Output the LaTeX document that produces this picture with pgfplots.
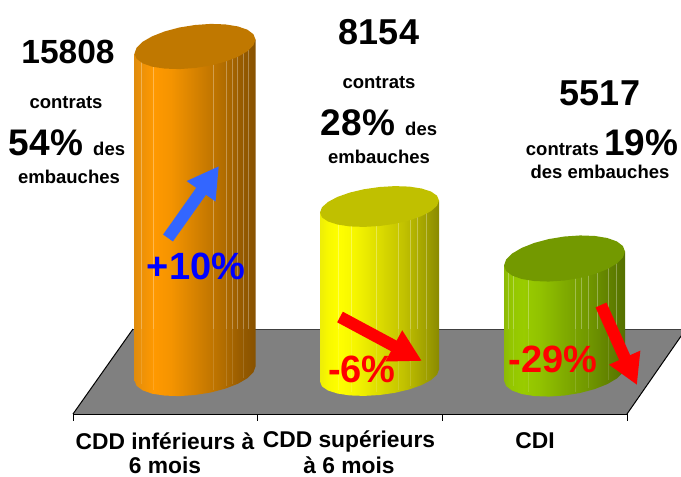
\documentclass[border=0pt]{standalone}
\usepackage{fontspec}
\setmainfont{Liberation Sans}
\usepackage{pgfplots}
\pgfplotsset{compat=1.18}
\usetikzlibrary{arrows.meta}
\definecolor{floorgray}{RGB}{128,128,128}
\definecolor{arrowblue}{RGB}{51,102,255}
\definecolor{labelblue}{RGB}{0,0,255}
\definecolor{orangetop}{RGB}{192,120,0}
\definecolor{yellowtop}{RGB}{192,192,0}
\definecolor{greentop}{RGB}{115,153,0}
% stops run from 25bp (left side of the bar) to 75bp (right side)
\pgfdeclarehorizontalshading{orangebody}{100bp}{
  rgb(0bp)=(0.88,0.55,0.05); rgb(25bp)=(0.88,0.55,0.05);
  rgb(28bp)=(0.93,0.57,0.03); rgb(33bp)=(1,0.6,0); rgb(40bp)=(0.96,0.58,0);
  rgb(50bp)=(0.84,0.51,0); rgb(60bp)=(0.72,0.44,0); rgb(70bp)=(0.58,0.35,0);
  rgb(75bp)=(0.53,0.32,0); rgb(100bp)=(0.53,0.32,0)}
\pgfdeclarehorizontalshading{yellowbody}{100bp}{
  rgb(0bp)=(0.93,0.93,0.03); rgb(25bp)=(0.93,0.93,0.03);
  rgb(28bp)=(0.97,0.97,0); rgb(33bp)=(1,1,0); rgb(40bp)=(0.96,0.96,0);
  rgb(50bp)=(0.86,0.86,0); rgb(60bp)=(0.76,0.76,0); rgb(70bp)=(0.62,0.62,0);
  rgb(75bp)=(0.54,0.54,0); rgb(100bp)=(0.54,0.54,0)}
\pgfdeclarehorizontalshading{greenbody}{100bp}{
  rgb(0bp)=(0.55,0.73,0.02); rgb(25bp)=(0.55,0.73,0.02);
  rgb(28bp)=(0.58,0.78,0); rgb(33bp)=(0.6,0.8,0); rgb(40bp)=(0.57,0.76,0);
  rgb(50bp)=(0.5,0.67,0); rgb(60bp)=(0.44,0.59,0); rgb(70bp)=(0.37,0.49,0);
  rgb(75bp)=(0.33,0.44,0); rgb(100bp)=(0.33,0.44,0)}
\tikzset{
  big/.style={font=\fontsize{36}{36}\selectfont\bfseries},
  small/.style={font=\fontsize{18.5}{18.5}\selectfont\bfseries},
  cat/.style={font=\fontsize{22.8}{22.8}\selectfont\bfseries, inner sep=0pt},
  pct/.style={font=\fontsize{38}{38}\selectfont\bfseries},
  facet/.style={no marks, white, line width=0.7pt, opacity=0.3},
  lowfacet/.style={no marks, white, line width=0.7pt, opacity=0.13}
}
\newcommand{\bs}[1]{\fontsize{37}{37}\selectfont #1}
\newcommand{\sm}[1]{\fontsize{18.5}{18.5}\selectfont #1}
\begin{document}
\begin{tikzpicture}
\useasboundingbox (0,0) rectangle (681pt,477pt);
\begin{axis}[
  scale only axis, width=681pt, height=477pt,
  xmin=0, xmax=681, ymin=0, ymax=477, y dir=reverse,
  hide axis, clip=true, unbounded coords=jump
]
% floor
\addplot[fill=floorgray, draw=none] coordinates {(73,414)(133,329)(686,329)(627,414)} --cycle;
\addplot[black!75, line width=1pt, no marks] coordinates {(133,329)(686,329)};
\addplot[black, line width=1pt, no marks] coordinates {(73,414)(133,329)};
\addplot[black, line width=1pt, no marks] coordinates {(627,414)(686,329)};
\addplot[black, line width=1pt, no marks] coordinates {(73,414)(627,414)};
\addplot[black, line width=0.8pt, no marks] coordinates {
  (73,414)(73,421)(73,nan)(257,414)(257,421)(257,nan)(442,414)(442,421)(442,nan)(627,414)(627,421)};

% 15808 contrats
\addplot[shade, shading=orangebody, draw=none] coordinates {
  (255.5,39.5)(255.5,366.5)(253.4,372.3)(247.4,378.2)(237.8,383.8)(225.3,388.6)(210.7,392.5)(195,395)
  (179.3,396.1)(164.7,395.6)(152.2,393.7)(142.6,390.3)(136.6,385.8)(134.5,380.5)(134.5,53.5)} --cycle;
\addplot[facet] coordinates {
  (141,50)(141,329)(141,nan)(153,50)(153,329)(153,nan)(213,50)(213,329)(213,nan)(226,50)(226,329)(226,nan)
  (232,50)(232,329)(232,nan)(237,50)(237,329)(237,nan)(243,50)(243,329)(243,nan)(248,50)(248,329)};
\addplot[lowfacet] coordinates {
  (141,329)(141,384)(141,nan)(153,329)(153,390)(153,nan)(213,329)(213,390)(213,nan)(226,329)(226,386)(226,nan)
  (232,329)(232,384)(232,nan)(243,329)(243,378)};
\addplot[fill=orangetop, draw=none] coordinates {
  (255.5,39.5)(253.4,45.3)(247.4,51.2)(237.8,56.8)(225.3,61.6)(210.7,65.5)(195,68)(179.3,69.1)
  (164.7,68.6)(152.2,66.7)(142.6,63.3)(136.6,58.8)(134.5,53.5)(136.6,47.7)(142.6,41.8)(152.2,36.3)
  (164.7,31.4)(179.3,27.5)(195,25)(210.7,23.9)(225.3,24.4)(237.8,26.4)(247.4,29.7)(253.4,34.2)} --cycle;

% 8154 contrats
\addplot[shade, shading=yellowbody, draw=none] coordinates {
  (439,200.5)(439,369.5)(437,374.75)(431,380.05)(421.6,385.05)(409.3,389.4)(394.9,392.8)(379.5,395)
  (364.1,395.9)(349.7,395.4)(337.4,393.5)(328,390.5)(322,386.4)(320,381.5)(320,212.5)} --cycle;
\addplot[facet] coordinates {
  (338,205)(338,329)(338,nan)(351,205)(351,329)(351,nan)(376,205)(376,329)(376,nan)(398,205)(398,329)(398,nan)
  (410,205)(410,329)(410,nan)(417,205)(417,329)(417,nan)(426,205)(426,329)};
\addplot[lowfacet] coordinates {
  (338,329)(338,390)(338,nan)(351,329)(351,392)(351,nan)(376,329)(376,392)(376,nan)(398,329)(398,390)(398,nan)
  (410,329)(410,386)(410,nan)(426,329)(426,380)};
\addplot[fill=yellowtop, draw=none] coordinates {
  (439,200.5)(437,205.75)(431,211.05)(421.6,216.05)(409.3,220.4)(394.9,223.8)(379.5,226)(364.1,226.9)
  (349.7,226.4)(337.4,224.5)(328,221.5)(322,217.4)(320,212.5)(322,207.25)(328,201.95)(337.4,196.95)
  (349.7,192.6)(364.1,189.2)(379.5,187)(394.9,186.1)(409.3,186.6)(421.6,188.5)(431,191.55)(437,195.65)} --cycle;

% 5517 contrats
\addplot[shade, shading=greenbody, draw=none] coordinates {
  (625,251.5)(625,366.5)(622.9,372.44)(616.9,378.44)(607.3,384.1)(594.8,389.05)(580.2,392.94)(564.5,395.5)
  (548.8,396.56)(534.2,396.05)(521.7,394)(512.1,390.56)(506.1,385.96)(504,380.5)(504,265.5)} --cycle;
\addplot[facet] coordinates {
  (508,255)(508,329)(508,nan)(513,255)(513,329)(513,nan)(528,255)(528,329)(528,nan)(575,255)(575,329)(575,nan)
  (581,255)(581,329)(581,nan)(588,255)(588,329)(588,nan)(597,255)(597,329)(597,nan)(608,255)(608,329)(608,nan)(616,255)(616,329)};
\addplot[lowfacet] coordinates {
  (513,329)(513,386)(513,nan)(528,329)(528,392)(528,nan)(575,329)(575,392)(575,nan)
  (588,329)(588,388)(588,nan)(608,329)(608,380)};
\addplot[fill=greentop, draw=none] coordinates {
  (625,251.5)(622.9,257.44)(616.9,263.44)(607.3,269.1)(594.8,274.05)(580.2,277.94)(564.5,280.5)(548.8,281.56)
  (534.2,281.05)(521.7,279)(512.1,275.56)(506.1,270.96)(504,265.5)(506.1,259.56)(512.1,253.56)(521.7,247.9)
  (534.2,242.95)(548.8,239.06)(564.5,236.5)(580.2,235.44)(594.8,235.95)(607.3,238)(616.9,241.44)(622.9,246.04)} --cycle;

% arrows
\draw[arrowblue, line width=12pt, -{Triangle[length=31pt,width=33pt]}] (axis cs:168,238) -- (axis cs:219,166);
\draw[red, line width=12pt, -{Triangle[length=32pt,width=33pt]}] (axis cs:340,317) -- (axis cs:422,361);
\draw[red, line width=12pt, -{Triangle[length=30pt,width=32pt]}] (axis cs:601,305) -- (axis cs:637,385);

% change labels
\node[pct, labelblue] at (axis cs:196,266) {+10\%};
\node[pct, red] at (axis cs:362,369) {-6\%};
\node[pct, red] at (axis cs:553,359) {-29\%};

% left block
\node[font=\fontsize{33.5}{33.5}\selectfont\bfseries] at (axis cs:68,52) {15808};
\node[small] at (axis cs:66,103) {contrats};
\node[font=\bfseries] at (axis cs:67,143) {\bs{54\%} \sm{des}};
\node[small] at (axis cs:69,177) {embauches};
% middle block
\node[big] at (axis cs:379,32) {8154};
\node[small] at (axis cs:379,83) {contrats};
\node[font=\bfseries] at (axis cs:379,123) {\bs{28\%} \sm{des}};
\node[small] at (axis cs:379,157) {embauches};
% right block
\node[big] at (axis cs:600,93) {5517};
\node[font=\bfseries] at (axis cs:602,143) {\sm{contrats} \bs{19\%}};
\node[small] at (axis cs:600,172) {des embauches};

% category labels
\node[cat] at (axis cs:165,441) {CDD inférieurs à};
\node[cat] at (axis cs:165,465) {6 mois};
\node[cat] at (axis cs:349,441) {CDD supérieurs};
\node[cat] at (axis cs:349,465) {à 6 mois};
\node[cat] at (axis cs:535,441) {CDI};
\end{axis}
\end{tikzpicture}
\end{document}
